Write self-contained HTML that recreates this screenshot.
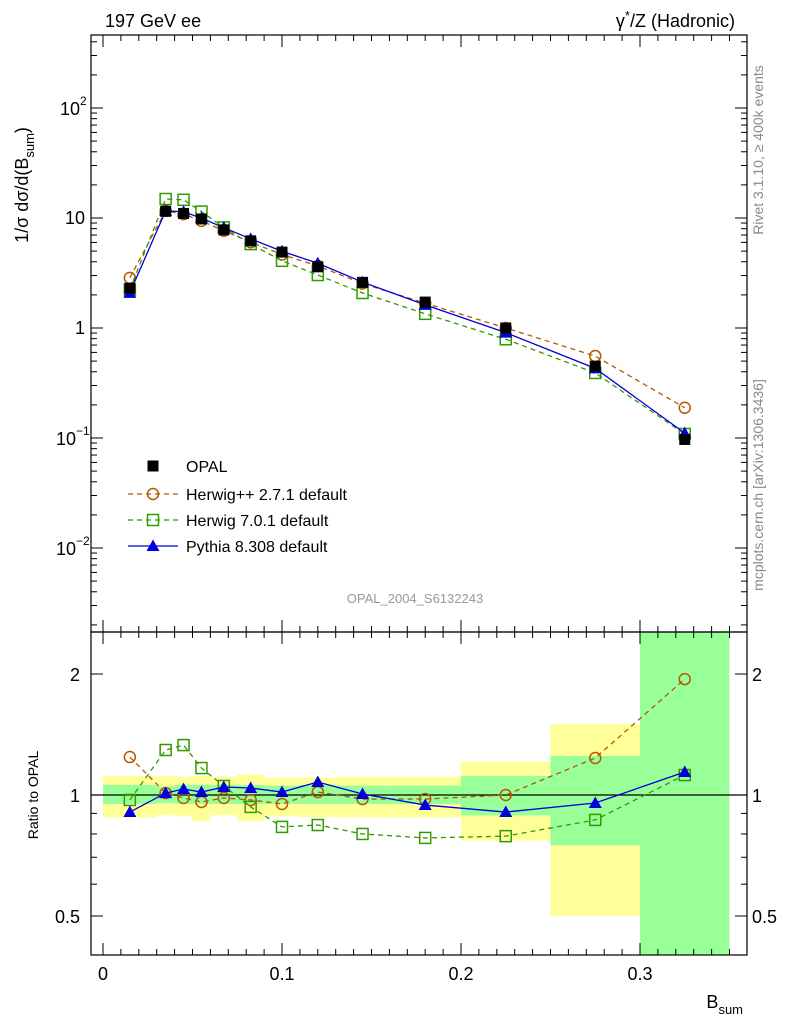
<!DOCTYPE html>
<html><head><meta charset="utf-8"><style>body{margin:0;background:#fff}svg{display:block}text{font-family:"Liberation Sans",sans-serif}</style></head>
<body>
<svg id="c" width="786" height="1024"></svg>
<script>
const edges=[0,0.03,0.04,0.05,0.06,0.075,0.09,0.11,0.13,0.16,0.2,0.25,0.3,0.35];
const xs=[0.015,0.035,0.045,0.055,0.0675,0.0825,0.1,0.12,0.145,0.18,0.225,0.275,0.325];
const opal=[2.3,11.5,11,9.8,7.8,6.2,4.9,3.6,2.6,1.72,1.0,0.45,0.097];
const rHpp=[1.243,1.011,0.983,0.961,0.983,0.972,0.95,1.017,0.977,0.977,1.0,1.236,1.942];
const rH7=[0.972,1.294,1.331,1.167,1.053,0.934,0.833,0.842,0.80,0.782,0.79,0.867,1.121];
const rPy=[0.907,1.011,1.035,1.017,1.047,1.041,1.017,1.077,1.006,0.944,0.907,0.955,1.141];
const yHi=[1.115,1.115,1.11,1.115,1.11,1.125,1.105,1.105,1.11,1.11,1.21,1.5,3];
const yLo=[0.88,0.89,0.885,0.86,0.89,0.86,0.885,0.88,0.88,0.88,0.77,0.5,0.3];
const gHi=[1.06,1.05,1.06,1.06,1.06,1.06,1.055,1.06,1.055,1.055,1.115,1.25,3];
const gLo=[0.95,0.955,0.95,0.95,0.95,0.95,0.95,0.95,0.95,0.95,0.89,0.75,0.3];
const xTicks=[0,0.1,0.2,0.3];
const xTickLabels=["0","0.1","0.2","0.3"];

const L=91,R=747,T1=35,B1=632,T2=632,B2=955;
const X=v=>103+v*1790;
const Y=v=>328-110*Math.log10(v);
const YR=v=>Math.max(T2,Math.min(B2,795-402*Math.log10(v)));
const s=document.getElementById('c');const NS='http://www.w3.org/2000/svg';
function el(t,a,p){const e=document.createElementNS(NS,t);for(const k in a)e.setAttribute(k,a[k]);(p||s).appendChild(e);return e;}
function txt(x,y,str,a){const e=el('text',Object.assign({x:x,y:y,'font-size':18,fill:'#000'},a||{}));e.textContent=str;return e;}

const bands=el('g',{});


for(let i=0;i<xs.length;i++){
 const r1=el('rect',{x:X(edges[i]),width:X(edges[i+1])-X(edges[i]),y:YR(yHi[i]),height:YR(yLo[i])-YR(yHi[i]),fill:'#ffff99'},bands);
 
 
 const r2=el('rect',{x:X(edges[i]),width:X(edges[i+1])-X(edges[i]),y:YR(gHi[i]),height:YR(gLo[i])-YR(gHi[i]),fill:'#99ff99'},bands);
 
 
}
el('line',{x1:L,x2:R,y1:795,y2:795,stroke:'#000','stroke-width':1.2});

el('rect',{x:L,y:T1,width:R-L,height:B1-T1,fill:'none',stroke:'#000','stroke-width':1.2});
el('rect',{x:L,y:T2,width:R-L,height:B2-T2,fill:'none',stroke:'#000','stroke-width':1.2});

for(let d=-3;d<=2;d++){for(let m=1;m<10;m++){const v=m*Math.pow(10,d);const y=Y(v);if(y<T1||y>B1)continue;const len=m==1?12:6;
 el('line',{x1:L,x2:L+len,y1:y,y2:y,stroke:'#000'});el('line',{x1:R,x2:R-len,y1:y,y2:y,stroke:'#000'});}}
txt(85,334,"1",{'text-anchor':'end'});txt(85,224,"10",{'text-anchor':'end'});
txt(60,115,"10");txt(80,105,"2",{'font-size':12});
txt(56,445,"10");txt(76,435,"−1",{'font-size':12});
txt(56,555,"10");txt(76,545,"−2",{'font-size':12});
[0.4,0.5,0.6,0.7,0.8,0.9,1,2].forEach(v=>{const y=YR(v);const len=(v==0.5||v==1||v==2)?12:6;
 el('line',{x1:L,x2:L+len,y1:y,y2:y,stroke:'#000'});el('line',{x1:R,x2:R-len,y1:y,y2:y,stroke:'#000'});});
[[2,"2"],[1,"1"],[0.5,"0.5"]].forEach(p=>{txt(80,YR(p[0])+7,p[1],{'text-anchor':'end'});txt(752,YR(p[0])+7,p[1]);});
for(let v=0;v<=0.35001;v+=0.01){const x=X(v);const big=Math.abs(v*10-Math.round(v*10))<1e-6;const len=big?12:6;
 [[B1,-1],[T1,1],[B2,-1],[T2,1]].forEach(q=>el('line',{x1:x,x2:x,y1:q[0],y2:q[0]+q[1]*len,stroke:'#000'}));}
xTicks.forEach((v,i)=>txt(X(v),980,xTickLabels[i],{'text-anchor':'middle'}));

txt(105,27,"197 GeV ee",{});
let t=txt(735,27,"",{'text-anchor':'end'});t.innerHTML='γ<tspan dy="-7" font-size="13">*</tspan><tspan dy="7">/Z (Hadronic)</tspan>';
t=txt(743,1008,"",{'text-anchor':'end'});t.innerHTML='B<tspan dy="6" font-size="13">sum</tspan>';
t=txt(0,0,"",{transform:'translate(28,185) rotate(-90)','text-anchor':'middle'});t.innerHTML='1/σ dσ/d(B<tspan dy="6" font-size="13">sum</tspan><tspan dy="-6">)</tspan>';
txt(0,0,"Ratio to OPAL",{transform:'translate(38,795) rotate(-90)','text-anchor':'middle','font-size':14});
txt(0,0,"Rivet 3.1.10, ≥ 400k events",{transform:'translate(763,150) rotate(-90)','text-anchor':'middle','font-size':14,fill:'#888'});
txt(0,0,"mcplots.cern.ch [arXiv:1306.3436]",{transform:'translate(763,485) rotate(-90)','text-anchor':'middle','font-size':14,fill:'#888'});
txt(415,603,"OPAL_2004_S6132243",{'text-anchor':'middle','font-size':13,fill:'#999'});

function mark(type,x,y,col,g){
 if(type=='sq')return el('rect',{x:x-5.5,y:y-5.5,width:11,height:11,fill:'#000'},g);
 if(type=='osq')return el('rect',{x:x-5.5,y:y-5.5,width:11,height:11,fill:'none',stroke:col,'stroke-width':1.5},g);
 if(type=='oc')return el('circle',{cx:x,cy:y,r:5.5,fill:'none',stroke:col,'stroke-width':1.5},g);
 return el('polygon',{points:`${x},${y-6.5} ${x-6.5},${y+5} ${x+6.5},${y+5}`,fill:col},g);
}
const series=[
 {n:'herwigpp',r:rHpp,c:'#b35900',m:'oc',d:'5,4'},
 {n:'herwig7',r:rH7,c:'#339900',m:'osq',d:'5,4'},
 {n:'pythia',r:rPy,c:'#0000dd',m:'tri',d:''}];
series.forEach(S=>{
 const g1=el('g',{});
 const g2=el('g',{});
 const p1=xs.map((x,i)=>X(x)+','+Y(opal[i]*S.r[i])).join(' ');
 const p2=xs.map((x,i)=>X(x)+','+YR(S.r[i])).join(' ');
 el('polyline',{points:p1,fill:'none',stroke:S.c,'stroke-width':1.3,'stroke-dasharray':S.d},g1);
 el('polyline',{points:p2,fill:'none',stroke:S.c,'stroke-width':1.3,'stroke-dasharray':S.d},g2);
 xs.forEach((x,i)=>{mark(S.m,X(x),Y(opal[i]*S.r[i]),S.c,g1);mark(S.m,X(x),YR(S.r[i]),S.c,g2);});
});
const go=el('g',{});
xs.forEach((x,i)=>mark('sq',X(x),Y(opal[i]),'#000',go));

const lg=el('g',{});
mark('sq',153,466,'#000',lg);txt(186,472,"OPAL",{'font-size':16});
const le=[['Herwig++ 2.7.1 default','oc','#b35900','5,4'],['Herwig 7.0.1 default','osq','#339900','5,4'],['Pythia 8.308 default','tri','#0000dd','']];
le.forEach((e,i)=>{const y=494+i*26;el('line',{x1:128,x2:178,y1:y,y2:y,stroke:e[2],'stroke-width':1.3,'stroke-dasharray':e[3]},lg);mark(e[1],153,y,e[2],lg);
 const tt=txt(186,y+6,e[0],{'font-size':16});lg.appendChild(tt);});
</script>
</body></html>
